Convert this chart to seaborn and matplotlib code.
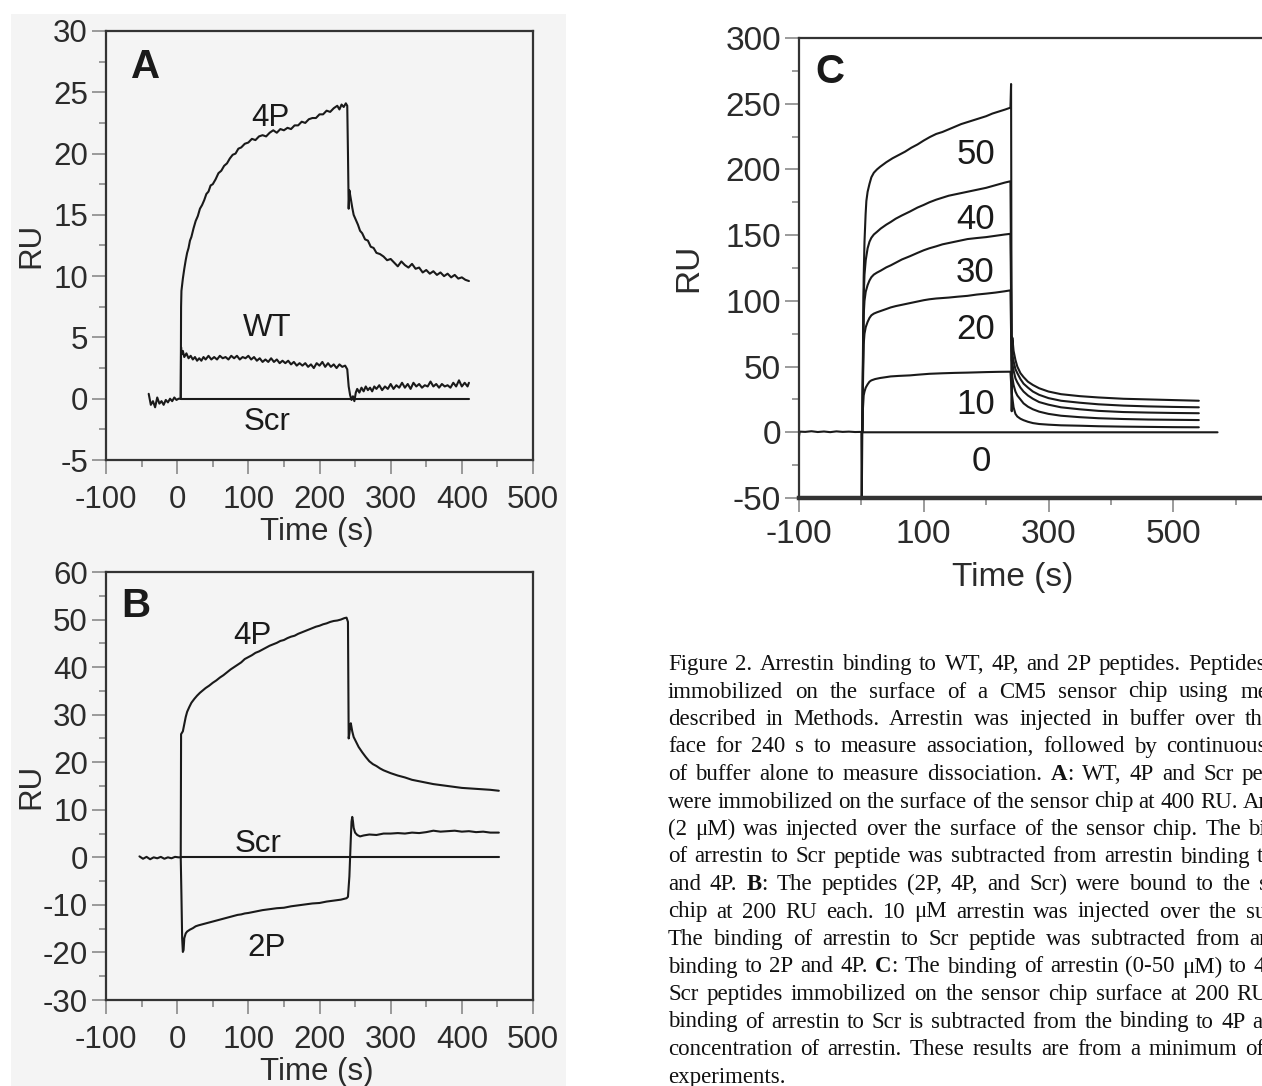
import numpy as np
import pandas as pd
import matplotlib
matplotlib.use('Agg')
import matplotlib.pyplot as plt
import seaborn as sns
from matplotlib.patches import Rectangle
from matplotlib.ticker import MultipleLocator, FixedLocator

sns.set_theme(style='ticks')
plt.rcParams['font.family'] = ['Liberation Sans', 'DejaVu Sans']
plt.rcParams['axes.unicode_minus'] = False

INK = '#1a1a1a'
TXT = '#2b2b2b'

# ---------------- panel A (2 uM arrestin, 400 RU) ----------------
a_base = [(-40, 0.4), (-37, -0.5), (-34, -0.2), (-31, -0.7), (-28, 0.1), (-25, -0.4),
          (-22, -0.2), (-19, -0.5), (-16, -0.1), (-13, -0.3), (-10, 0.0), (-7, -0.2),
          (-4, 0.1), (-1, -0.1), (2, 0.0), (5, 0.0)]
a_4p = [(5, 0.0), (5.5, 7.5), (6, 8.8), (8, 9.8), (10, 10.6), (12, 11.3), (14, 11.9), (16, 12.3),
        (18, 12.9), (20, 13.2), (23, 13.9), (26, 14.5), (29, 14.9), (32, 15.5), (35, 15.8),
        (38, 16.2), (41, 16.7), (44, 16.9), (47, 17.4), (50, 17.5), (54, 17.9), (58, 18.4),
        (62, 18.6), (66, 19.0), (70, 19.2), (74, 19.6), (78, 19.9), (82, 20.0), (86, 20.4),
        (90, 20.5), (95, 20.8), (100, 20.9), (105, 21.2), (110, 21.1), (115, 21.4), (120, 21.5),
        (125, 21.4), (130, 21.7), (135, 21.9), (140, 21.7), (145, 22.0), (150, 21.9), (155, 22.1),
        (160, 22.0), (165, 22.3), (170, 22.3), (175, 22.6), (180, 22.5), (185, 22.8), (190, 22.9),
        (195, 22.9), (200, 23.2), (205, 23.2), (210, 23.5), (215, 23.4), (220, 23.7), (225, 23.9),
        (228, 23.6), (231, 24.0), (234, 23.8), (237, 24.1), (239, 23.9), (240, 20.0), (241, 15.5),
        (242, 17.0), (244, 16.3), (246, 15.6), (248, 15.0), (251, 14.6), (254, 14.2), (257, 13.7),
        (260, 13.5), (264, 13.0), (268, 12.9), (272, 12.4), (276, 12.3), (280, 11.9), (285, 11.8),
        (290, 11.6), (295, 11.3), (300, 11.4), (305, 11.1), (310, 10.8), (315, 11.2), (320, 10.9),
        (325, 10.7), (330, 11.0), (335, 10.6), (340, 10.7), (345, 10.3), (350, 10.5), (355, 10.2),
        (360, 10.4), (365, 10.1), (370, 10.3), (375, 10.0), (380, 10.2), (385, 9.9), (390, 10.1),
        (395, 9.8), (400, 9.9), (405, 9.7), (410, 9.6)]
a_wt = [(5, 0.0), (5.5, 4.2), (6, 3.6), (8, 3.9), (10, 3.4), (13, 3.7), (16, 3.3), (19, 3.5),
        (22, 3.2), (25, 3.4), (28, 3.1), (31, 3.3), (34, 3.1), (37, 3.4), (40, 3.2), (44, 3.5),
        (48, 3.2), (52, 3.4), (56, 3.2), (60, 3.5), (64, 3.3), (68, 3.4), (72, 3.2), (76, 3.5),
        (80, 3.3), (84, 3.5), (88, 3.2), (92, 3.4), (96, 3.3), (100, 3.5), (104, 3.2), (108, 3.4),
        (112, 3.1), (116, 3.3), (120, 3.0), (124, 3.2), (128, 3.0), (132, 3.3), (136, 3.0),
        (140, 3.2), (144, 2.9), (148, 3.1), (152, 2.9), (156, 3.1), (160, 2.8), (164, 3.0),
        (168, 2.7), (172, 2.9), (176, 2.7), (180, 2.9), (184, 2.6), (188, 2.8), (192, 2.5),
        (196, 2.9), (200, 2.7), (204, 3.0), (208, 2.6), (212, 2.9), (216, 2.6), (220, 2.8),
        (224, 2.5), (228, 2.8), (232, 2.6), (236, 2.7), (239, 2.4), (241, 1.0), (243, 0.3),
        (245, -0.1), (247, 0.2), (249, -0.2), (251, 0.5), (253, 0.8), (256, 0.5), (259, 0.9),
        (262, 0.6), (265, 1.0), (268, 0.7), (271, 0.9), (274, 0.6), (277, 1.0), (280, 0.8),
        (284, 1.1), (288, 0.7), (292, 1.0), (296, 0.8), (300, 1.2), (304, 0.8), (308, 1.1),
        (312, 0.9), (316, 1.3), (320, 0.9), (324, 1.2), (328, 0.8), (332, 1.3), (336, 1.0),
        (340, 1.2), (344, 0.9), (348, 1.1), (352, 1.0), (356, 1.4), (360, 1.0), (364, 1.2),
        (368, 0.9), (372, 1.2), (376, 1.0), (380, 1.1), (384, 0.9), (388, 1.3), (392, 1.0),
        (396, 1.5), (400, 1.0), (404, 1.3), (408, 1.0), (410, 1.3)]
a_scr = [(5, 0.0), (410, 0.0)]

# ---------------- panel B (10 uM arrestin, 200 RU) ----------------
b_base = [(-53, 0.2), (-48, -0.3), (-43, 0.1), (-38, -0.4), (-33, 0.0), (-28, -0.2), (-23, 0.1),
          (-18, -0.3), (-13, 0.0), (-8, -0.2), (-3, 0.1), (2, 0.0), (5, 0.0)]
b_4p = [(5, 0.0), (5.5, 25.9), (8, 26.5), (10, 28.0), (12, 29.5), (14, 30.6), (17, 31.6),
        (20, 32.5), (24, 33.3), (28, 34.0), (32, 34.6), (36, 35.1), (40, 35.6), (45, 36.1),
        (50, 36.7), (55, 37.2), (60, 37.8), (65, 38.3), (70, 38.9), (75, 39.5), (80, 40.0),
        (85, 40.5), (90, 41.0), (95, 41.7), (100, 42.1), (105, 42.5), (110, 43.0), (115, 43.3),
        (120, 43.7), (125, 44.1), (130, 44.5), (135, 44.8), (140, 45.1), (145, 45.5), (150, 45.7),
        (155, 46.1), (160, 46.4), (165, 46.6), (170, 47.0), (175, 47.3), (180, 47.6), (185, 47.9),
        (190, 48.2), (195, 48.5), (200, 48.7), (205, 49.0), (210, 49.2), (215, 49.5), (220, 49.7),
        (225, 49.8), (230, 50.0), (235, 50.3), (238, 50.4), (240, 49.5), (241, 25.0), (242, 26.0),
        (243, 27.5), (244, 28.2), (246, 26.5), (248, 25.3), (251, 24.4), (255, 23.2), (260, 22.1),
        (265, 21.1), (270, 20.2), (275, 19.6), (280, 19.2), (285, 18.7), (290, 18.3), (295, 18.0),
        (300, 17.7), (310, 17.2), (320, 16.8), (330, 16.3), (340, 16.0), (350, 15.7), (360, 15.4),
        (370, 15.2), (380, 15.0), (390, 14.8), (400, 14.6), (410, 14.5), (420, 14.4), (430, 14.3),
        (440, 14.2), (452, 14.0)]
b_2p = [(5, 0.0), (6, -8.0), (7, -17.0), (8, -19.9), (9, -19.5), (10, -17.0), (12, -16.0),
        (14, -15.6), (18, -15.2), (22, -14.9), (26, -14.5), (30, -14.3), (35, -14.1), (40, -13.9),
        (45, -13.7), (50, -13.5), (55, -13.3), (60, -13.1), (65, -12.9), (70, -12.7), (75, -12.5),
        (80, -12.3), (85, -12.1), (90, -12.0), (95, -11.8), (100, -11.7), (110, -11.4),
        (120, -11.1), (130, -10.9), (140, -10.7), (150, -10.6), (160, -10.3), (170, -10.1),
        (180, -9.9), (190, -9.7), (200, -9.6), (210, -9.3), (220, -9.1), (230, -8.9), (238, -8.6),
        (240, -8.3), (242, -4.0), (243, 0.0), (244, 4.0), (245, 7.5), (246, 8.5), (247, 7.6),
        (248, 6.2), (250, 5.2), (253, 4.7), (257, 4.4), (262, 4.6), (270, 4.8), (280, 4.7),
        (290, 5.0), (300, 5.0), (310, 5.1), (320, 5.0), (330, 5.2), (340, 5.1), (350, 5.3),
        (360, 5.6), (370, 5.4), (380, 5.5), (390, 5.6), (400, 5.4), (410, 5.5), (420, 5.3),
        (430, 5.4), (440, 5.2), (452, 5.2)]
b_scr = [(5, 0.0), (452, 0.0)]

# ---------------- panel C (0-50 uM arrestin on 4P) ----------------
c_base = [(-100, -3.0), (-99, 0.5), (-90, 0.3), (-80, 0.8), (-70, 0.2), (-60, 0.6), (-50, 0.1),
          (-40, 0.7), (-30, 0.3), (-20, 0.5), (-10, 0.2), (0, 0.3)]
c_0 = [(0, 0.0), (0.5, -60.0), (1.5, 0.0), (571, 0.0)]
c_50 = [(1.5, 0), (2.5, 60), (3.7, 118), (5, 145), (6.8, 166), (8, 176), (10, 183), (13, 189),
        (16, 194), (20, 197.5), (25, 200), (30, 202), (40, 205.5), (50, 208.5), (60, 211),
        (70, 213.5), (80, 216.5), (90, 219), (100, 222), (110, 224.7), (120, 227), (130, 228.5),
        (140, 230.5), (150, 232.5), (160, 234.5), (170, 236), (180, 237.5), (190, 239),
        (200, 240.5), (210, 242.5), (220, 244), (230, 245.5), (239, 247), (240, 265), (241, 16),
        (242, 72), (244, 62), (247, 55), (250, 50), (255, 45), (260, 42), (267, 38.5), (275, 36),
        (285, 33.5), (300, 31), (320, 29), (350, 27.5), (380, 26.5), (420, 25.5), (460, 25),
        (500, 24.5), (541, 24)]
c_40 = [(1.5, 0), (2.5, 50), (3.7, 103), (5, 120), (7, 131), (10, 140), (13, 145), (16, 148),
        (20, 150.5), (25, 152.5), (31, 155), (40, 158), (47, 160), (55, 162.5), (65, 165),
        (78, 168), (90, 171), (100, 173), (109, 175), (120, 177), (130, 178.5), (140, 180),
        (155, 181.5), (170, 183), (185, 184.5), (200, 186), (215, 188), (230, 190), (239, 191),
        (241, 62), (244, 54), (247, 48), (250, 45), (255, 40.5), (260, 37), (267, 34), (275, 31),
        (285, 28.5), (300, 26), (320, 24), (350, 22.5), (380, 21.3), (420, 20.3), (460, 19.7),
        (500, 19.3), (541, 19)]
c_30 = [(1.5, 0), (2.5, 45), (3.7, 89), (5, 100), (7, 107), (10, 112), (13, 115.5), (16, 118),
        (20, 120), (25, 121.5), (31, 123), (40, 125.5), (47, 127), (55, 129), (65, 131.5),
        (78, 134), (90, 136.5), (100, 138.5), (109, 140), (120, 141.5), (130, 143), (140, 144),
        (155, 145.5), (170, 147), (185, 147.8), (200, 148.5), (215, 149.5), (230, 150.5),
        (239, 151), (241, 55), (244, 47), (247, 41), (250, 38), (255, 34), (260, 31), (267, 28),
        (275, 25.5), (285, 23), (300, 21), (320, 19), (350, 17.5), (380, 16.3), (420, 15.4),
        (460, 15), (500, 14.7), (541, 14.5)]
c_20 = [(1.5, 0), (2.5, 35), (3.7, 67), (5, 75), (7, 80), (10, 84), (13, 87), (16, 89),
        (20, 90.3), (25, 91.3), (31, 92.3), (40, 93.8), (47, 95), (55, 96), (65, 97), (78, 98.3),
        (90, 99.5), (100, 100.5), (109, 101.2), (120, 101.8), (140, 102.5), (155, 103.2),
        (170, 103.8), (185, 104.8), (200, 105.5), (215, 106.3), (230, 107.3), (239, 108),
        (241, 45), (244, 36), (247, 31), (250, 28), (255, 25), (260, 22), (267, 19.5), (275, 17.5),
        (285, 15.7), (300, 14), (320, 12.6), (350, 11.5), (380, 10.7), (420, 10.1), (460, 9.7),
        (500, 9.5), (541, 9.3)]
c_10 = [(1.5, 0), (2.5, 18), (3.7, 28), (5, 31), (7, 34), (10, 36.5), (13, 38.5), (16, 39.5),
        (22, 40.5), (30, 41.3), (40, 42), (47, 42.5), (60, 42.9), (78, 43.3), (90, 43.8),
        (109, 44.5), (130, 44.9), (150, 45.2), (170, 45.4), (200, 45.8), (220, 46), (239, 46.1),
        (241, 30), (244, 19), (247, 14), (250, 12), (255, 10.3), (260, 9.2), (267, 8), (275, 7),
        (285, 6.3), (300, 5.8), (320, 5.3), (350, 5), (380, 4.6), (420, 4.3), (460, 4.1),
        (500, 3.9), (541, 3.8)]

a_labels = [('4P', 131, 22.9), ('WT', 126, 5.8), ('Scr', 126, -1.9)]
b_labels = [('4P', 106, 46.5), ('Scr', 114, 2.8), ('2P', 126, -19.1)]
c_labels = [('50', 183, 211), ('40', 183, 162), ('30', 183, 121.6), ('20', 183, 78),
            ('10', 183, 21), ('0', 192, -22)]

caption = [
    "Figure 2. Arrestin binding to WT, 4P, and 2P peptides.  Peptides were",
    "immobilized on the surface of a CM5 sensor chip using methods",
    "described in Methods. Arrestin was injected in buffer over the sur-",
    "face for 240 s to measure association, followed by continuous flow",
    "of buffer alone to measure dissociation. *A*: WT, 4P and Scr peptides",
    "were immobilized on the surface of the sensor chip at 400 RU. Arrestin",
    "(2 \u03bcM) was injected over the surface of the sensor chip. The binding",
    "of arrestin to Scr peptide was subtracted from arrestin binding to WT",
    "and 4P. *B*: The peptides (2P, 4P, and Scr) were bound to the sensor",
    "chip at 200 RU each. 10 \u03bcM arrestin was injected over the surface.",
    "The binding of arrestin to Scr peptide was subtracted from arrestin",
    "binding to 2P and 4P. *C*: The binding of arrestin (0-50 \u03bcM) to 4P and",
    "Scr peptides immobilized on the sensor chip surface at 200 RU. The",
    "binding of arrestin to Scr is subtracted from the binding to 4P at each",
    "concentration of arrestin. These results are from a minimum of three",
    "experiments.",
]

W, H = 1262, 1086
fig = plt.figure(figsize=(W / 100, H / 100), dpi=100)
fig.patch.set_facecolor('white')
fig.add_artist(Rectangle((11 / W, 0), 555 / W, 1 - 14 / H, transform=fig.transFigure,
                         facecolor='#f4f4f4', edgecolor='none', zorder=-10))


def px_axes(left, top, right, bottom):
    return fig.add_axes([left / W, 1 - bottom / H, (right - left) / W, (bottom - top) / H])


def trace(ax, pts):
    d = pd.DataFrame(pts, columns=['t', 'ru'])
    sns.lineplot(data=d, x='t', y='ru', ax=ax, sort=False, estimator=None,
                 color=INK, linewidth=1.5)


def style(ax, fs, face, xpad):
    ax.set_facecolor(face)
    ax.tick_params(which='major', direction='out', length=10, width=1.2, color='#8a8a8a',
                   labelsize=fs, labelcolor=TXT, pad=3)
    ax.tick_params(axis='x', which='major', pad=xpad)
    ax.tick_params(which='minor', direction='out', length=5, width=1.2, color='#8a8a8a')
    for s in ax.spines.values():
        s.set_color('#333333')
        s.set_linewidth(1.6)
    ax.set_xlabel('Time (s)', fontsize=fs, color=TXT)
    ax.set_ylabel('RU', fontsize=fs, color=TXT)


# panel A
axA = px_axes(106, 31, 533, 460)
for pts in [a_base, a_4p, a_wt, a_scr]:
    trace(axA, pts)
axA.set_xlim(-100, 500)
axA.set_ylim(-5, 30)
axA.xaxis.set_major_locator(MultipleLocator(100))
axA.xaxis.set_minor_locator(MultipleLocator(50))
axA.yaxis.set_major_locator(MultipleLocator(5))
axA.yaxis.set_minor_locator(MultipleLocator(2.5))
style(axA, 22.5, '#f4f4f4', 8)
axA.yaxis.set_label_coords(-0.14, 0.5)
axA.xaxis.set_label_coords(0.494, -0.133)
axA.text(-44, 27.1, 'A', fontsize=29, fontweight='bold', color=INK, ha='center', va='center')
for s, x, y in a_labels:
    axA.text(x, y, s, fontsize=22.5, color=INK, ha='center', va='center')

# panel B
axB = px_axes(106, 572, 533, 1000)
for pts in [b_base, b_4p, b_2p, b_scr]:
    trace(axB, pts)
axB.set_xlim(-100, 500)
axB.set_ylim(-30, 60)
axB.xaxis.set_major_locator(MultipleLocator(100))
axB.xaxis.set_minor_locator(MultipleLocator(50))
axB.yaxis.set_major_locator(MultipleLocator(10))
axB.yaxis.set_minor_locator(MultipleLocator(5))
style(axB, 22.5, '#f4f4f4', 8)
axB.yaxis.set_label_coords(-0.14, 0.5)
axB.xaxis.set_label_coords(0.494, -0.133)
axB.text(-58, 52.8, 'B', fontsize=29, fontweight='bold', color=INK, ha='center', va='center')
for s, x, y in b_labels:
    axB.text(x, y, s, fontsize=22.5, color=INK, ha='center', va='center')

# panel C (runs off the right edge of the page)
axC = px_axes(799, 38, 1298, 498)
for pts in [c_base, c_0, c_50, c_40, c_30, c_20, c_10]:
    trace(axC, pts)
axC.set_xlim(-100, 700)
axC.set_ylim(-50, 300)
axC.xaxis.set_major_locator(FixedLocator([-100, 100, 300, 500]))
axC.xaxis.set_minor_locator(MultipleLocator(100))
axC.yaxis.set_major_locator(MultipleLocator(50))
axC.yaxis.set_minor_locator(MultipleLocator(25))
style(axC, 24, 'white', 5)
axC.spines['bottom'].set_linewidth(3.2)
axC.yaxis.set_label_coords(-0.189, 0.5)
axC.xaxis.set_label_coords(0.429, -0.139)
axC.text(-51, 274, 'C', fontsize=29, fontweight='bold', color=INK, ha='center', va='center')
for s, x, y in c_labels:
    axC.text(x, y, s, fontsize=25, color=INK, ha='center', va='center')

# caption, justified column running past the right edge
renderer = fig.canvas.get_renderer()
cap_fs = 16.5
cap_left, cap_right = 668, 1318
for i, line in enumerate(caption):
    ybase = 1 - (670 + i * 27.5) / H
    words = []
    for w in line.split():
        segs = w.split('*')
        arts = []
        for k, seg in enumerate(segs):
            if not seg:
                continue
            t = fig.text(0, ybase, seg, fontsize=cap_fs, family='Liberation Serif',
                         fontweight='bold' if k % 2 else 'normal', color='#111111',
                         va='baseline', ha='left')
            arts.append((t, t.get_window_extent(renderer).width))
        words.append(arts)
    widths = [sum(wd for _, wd in arts) for arts in words]
    if i < len(caption) - 1 and len(words) > 1:
        gap = (cap_right - cap_left - sum(widths)) / (len(words) - 1)
    else:
        gap = cap_fs * 1.389 * 0.25
    x = cap_left
    for arts, wd in zip(words, widths):
        xx = x
        for t, w in arts:
            t.set_x(xx / W)
            xx += w
        x += wd + gap

fig.savefig('out.png', dpi=100)
